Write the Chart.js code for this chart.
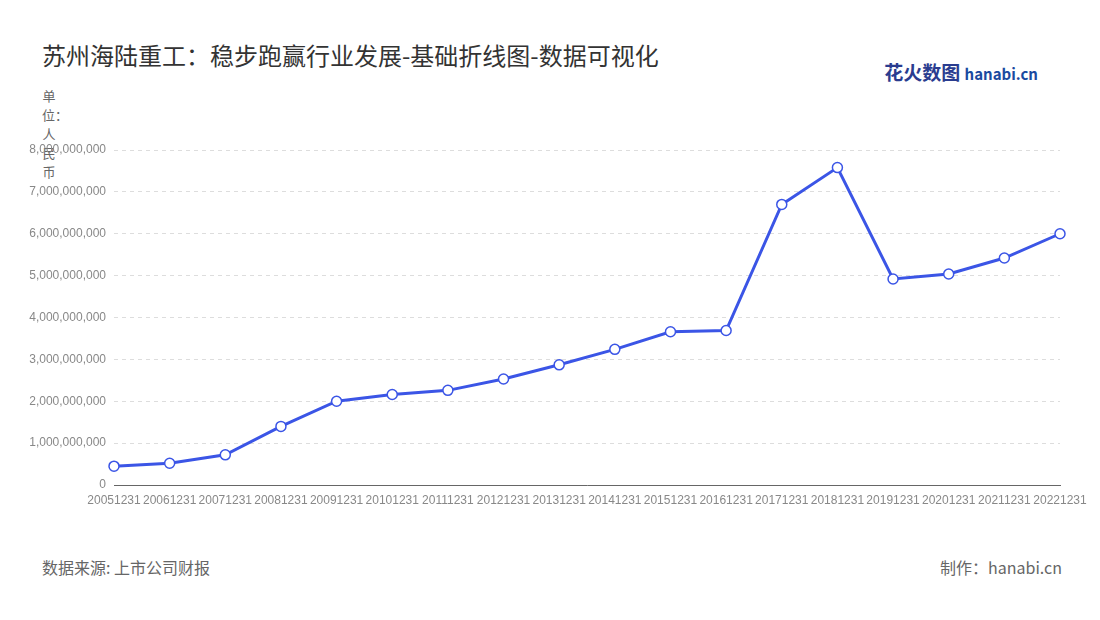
<!DOCTYPE html>
<html>
<head>
<meta charset="utf-8">
<script src="https://cdn.jsdelivr.net/npm/chart.js@4/dist/chart.umd.min.js"></script>
<style>
  body { margin:0; width:1100px; height:620px; background:#fff; font-family:"Noto Sans CJK SC","Noto Sans",sans-serif; position:relative; overflow:hidden; }
  #title { position:absolute; left:42px; top:37px; font-size:24px; color:#333; }
  #unit { position:absolute; left:42px; top:86px; width:14px; font-size:13px; line-height:19px; color:#666; text-align:center; }
  #src { position:absolute; left:42px; top:555px; font-size:16px; color:#666; }
  #made { position:absolute; right:38px; top:555px; font-size:16px; color:#666; }
  #logo { position:absolute; right:62px; top:58px; font-size:19px; font-weight:bold; color:#2a3c8f; }
  #logo span { font-size:15px; color:#1a4aa0; }
  canvas { position:absolute; left:0; top:0; }
</style>
</head>
<body>
<div id="title">苏州海陆重工：稳步跑赢行业发展-基础折线图-数据可视化</div>
<div id="logo">花火数图 <span>hanabi.cn</span></div>
<div id="unit">单位：人民币</div>
<div id="src">数据来源: 上市公司财报</div>
<div id="made">制作：hanabi.cn</div>
<canvas id="c" width="1100" height="620"></canvas>
<script>
var labels = ["20051231","20061231","20071231","20081231","20091231","20101231","20111231","20121231","20131231","20141231","20151231","20161231","20171231","20181231","20191231","20201231","20211231","20221231"];
var values = [450000000,520000000,720000000,1400000000,2000000000,2160000000,2260000000,2530000000,2870000000,3240000000,3660000000,3690000000,6700000000,7580000000,4920000000,5040000000,5420000000,6000000000];
var yTicks = [0,1000000000,2000000000,3000000000,4000000000,5000000000,6000000000,7000000000,8000000000];

var chart = new Chart(document.getElementById('c'), {
  type: 'line',
  data: {
    labels: labels,
    datasets: [{
      data: values,
      borderColor: '#3b55e6',
      borderWidth: 3,
      pointBackgroundColor: '#fff',
      pointBorderColor: '#3b55e6',
      pointBorderWidth: 1.5,
      pointRadius: 5,
      tension: 0
    }]
  },
  options: {
    responsive: false,
    animation: false,
    layout: { padding: { left: 0, top: 150, right: 40, bottom: 110 } },
    plugins: { legend: { display: false }, tooltip: { enabled: false } },
    scales: {
      x: {
        offset: false,
        afterFit: function(s) { s.height = 25; },
        grid: { display: false, drawTicks: true, tickLength: 5 },
        border: { color: '#666' },
        ticks: { color: '#888', font: { size: 12 }, maxRotation: 0, autoSkip: false }
      },
      y: {
        min: 0, max: 8000000000,
        afterFit: function(s) { s.width = 114; },
        afterBuildTicks: function(s) { s.ticks = yTicks.map(function(v){ return {value:v}; }); },
        grid: { color: '#ddd', drawTicks: false },
        border: { display: false, dash: [4,4] },
        ticks: { color: '#888', font: { size: 12 }, padding: 8,
          callback: function(v) { return v.toLocaleString('en-US'); } }
      }
    }
  }
});
</script>
</body>
</html>
